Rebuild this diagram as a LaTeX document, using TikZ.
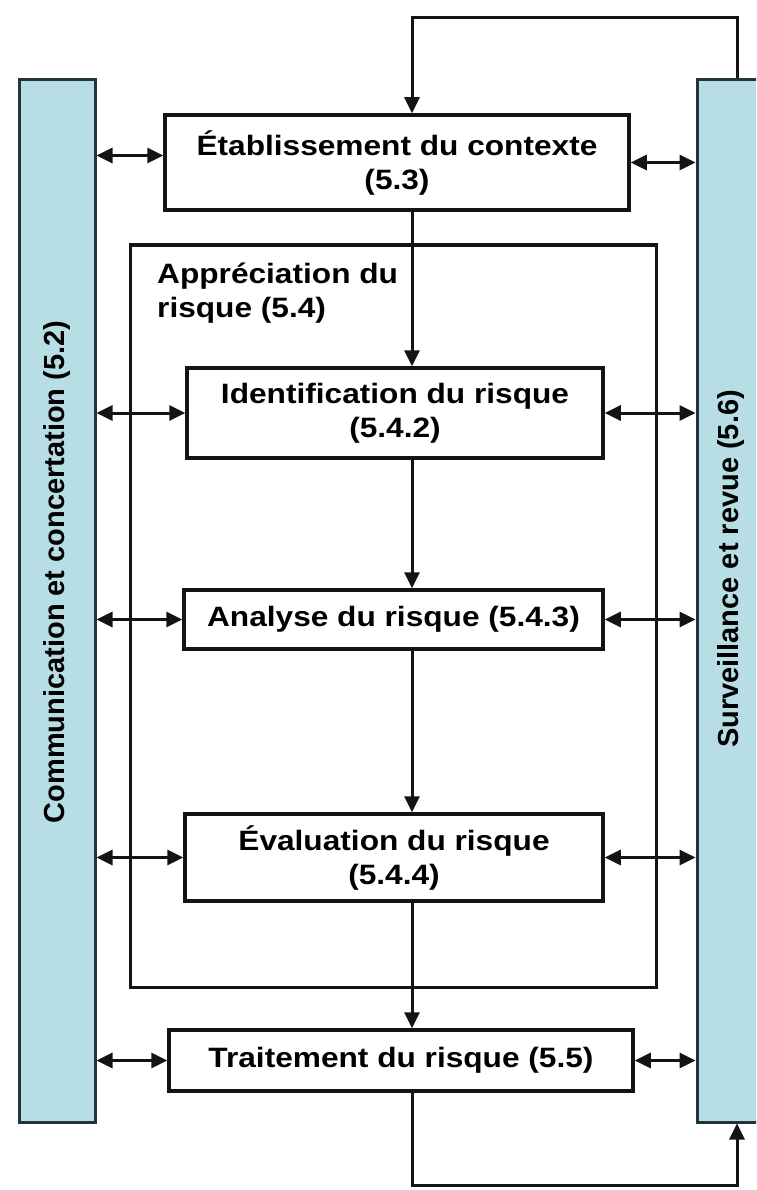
\documentclass[tikz,border=0pt]{standalone}
\usepackage{fontspec}
\setmainfont{Liberation Sans}[FakeStretch=1.13]
\newfontfamily\vfont{Liberation Sans}
\usetikzlibrary{arrows.meta,calc}
\definecolor{barfill}{RGB}{183,222,228}
\definecolor{barline}{RGB}{35,52,58}
\definecolor{ink}{RGB}{20,20,20}
\begin{document}
\begin{tikzpicture}[x=1pt,y=1pt,
  box/.style={draw=ink, line width=3.5pt, fill=white, align=center,
    font=\fontsize{28}{34}\selectfont\bfseries, inner sep=0pt},
  bar/.style={draw=barline, line width=3pt, fill=barfill, inner sep=0pt},
  bartext/.style={rotate=90, font=\fontsize{29}{34}\vfont\bfseries, inner sep=0pt},
  frame/.style={draw=ink, line width=3pt, inner sep=0pt},
  tip/.tip={Triangle[length=16pt,width=15pt]},
  arr/.style={draw=ink, line width=3pt, -tip},
  darr/.style={draw=ink, line width=3pt, tip-tip},
]
\path[use as bounding box] (0,0) rectangle (756,-1190);
\clip (0,0) rectangle (756,-1190);
\fill[white] (0,0) rectangle (756,-1190);

% side bars
\node[bar, minimum width=76pt, minimum height=1042pt] (comm) at (57,-601) {};
\node[bartext] (commtxt) at (57,-572) {Communication et concertation (5.2)};
\node[bar, minimum width=74pt, minimum height=1042pt] (surv) at (734,-601) {};
\node[bartext] (survtxt) at (731,-569) {Surveillance et revue (5.6)};

% frame
\node[frame, minimum width=526pt, minimum height=742pt] (appr) at (393,-616) {};
\node[anchor=base west, align=left, inner sep=0pt,
  font=\fontsize{28}{34}\selectfont\bfseries] (apprlbl) at (157,-317)
  {Appréciation du\\risque (5.4)};

% boxes
\node[box, minimum width=464pt, minimum height=95pt] (ctx) at (397,-162.5)
  {Établissement du contexte\\(5.3)};
\node[box, minimum width=416pt, minimum height=90pt] (ident) at (395,-413)
  {Identification du risque\\(5.4.2)};
\node[box, minimum width=419pt, minimum height=59pt] (anal) at (393.5,-619.5)
  {Analyse du risque (5.4.3)};
\node[box, minimum width=418pt, minimum height=87pt] (eval) at (394,-857.5)
  {Évaluation du risque\\(5.4.4)};
\node[box, minimum width=464pt, minimum height=61pt] (trait) at (401,-1060.5)
  {Traitement du risque (5.5)};

% helper coordinates
\coordinate (cx) at (412,0);
\coordinate (tl) at (737,-18);
\coordinate (bl) at (737,-1185);

% vertical flow
\draw[arr] (ctx.south -| cx) -- (ident.north -| cx);
\draw[arr] (ident.south -| cx) -- (anal.north -| cx);
\draw[arr] (anal.south -| cx) -- (eval.north -| cx);
\draw[arr] (eval.south -| cx) -- (trait.north -| cx);

% loops
\draw[arr] (surv.north -| tl) -- (tl) -| (ctx.north -| cx);
\draw[arr] (trait.south -| cx) |- (bl) -- (surv.south -| bl);

% double arrows to the side bars
\draw[darr] ($(comm.east |- ctx.west)+(0,7)$) -- ($(ctx.west)+(0,7)$);
\draw[darr] (ctx.east) -- (surv.west |- ctx.east);
\foreach \b in {ident,anal,eval,trait}{
  \draw[darr] (comm.east |- \b.west) -- (\b.west);
  \draw[darr] (\b.east) -- (surv.west |- \b.east);
}
\end{tikzpicture}
\end{document}
